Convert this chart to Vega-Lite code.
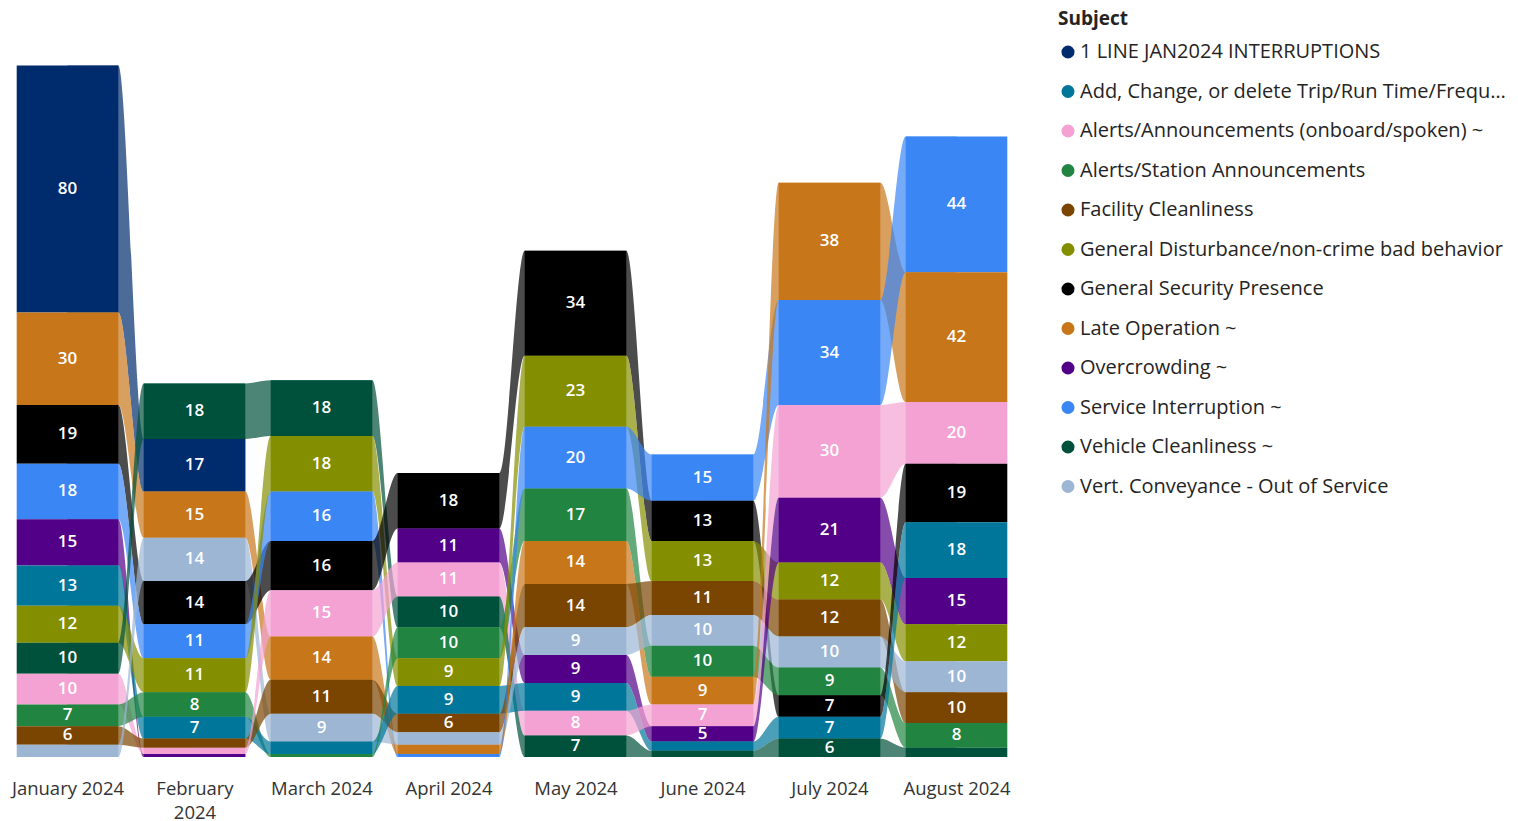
{
  "$schema": "https://vega.github.io/schema/vega-lite/v6.json",
  "width": 1016,
  "height": 741,
  "padding": {"left": 4, "top": 10, "right": 0, "bottom": 0},
  "config": {"view": {"stroke": null}, "font": "Open Sans"},
  "data": {"values": [
    {"m": 1, "subject": "1 LINE JAN2024 INTERRUPTIONS", "value": 80},
    {"m": 1, "subject": "Late Operation ~", "value": 30},
    {"m": 1, "subject": "General Security Presence", "value": 19},
    {"m": 1, "subject": "Service Interruption ~", "value": 18},
    {"m": 1, "subject": "Overcrowding ~", "value": 15},
    {"m": 1, "subject": "Add, Change, or delete Trip/Run Time/Frequency", "value": 13},
    {"m": 1, "subject": "General Disturbance/non-crime bad behavior", "value": 12},
    {"m": 1, "subject": "Vehicle Cleanliness ~", "value": 10},
    {"m": 1, "subject": "Alerts/Announcements (onboard/spoken) ~", "value": 10},
    {"m": 1, "subject": "Alerts/Station Announcements", "value": 7},
    {"m": 1, "subject": "Facility Cleanliness", "value": 6},
    {"m": 1, "subject": "Vert. Conveyance - Out of Service", "value": 4},
    {"m": 2, "subject": "Vehicle Cleanliness ~", "value": 18},
    {"m": 2, "subject": "1 LINE JAN2024 INTERRUPTIONS", "value": 17},
    {"m": 2, "subject": "Late Operation ~", "value": 15},
    {"m": 2, "subject": "Vert. Conveyance - Out of Service", "value": 14},
    {"m": 2, "subject": "General Security Presence", "value": 14},
    {"m": 2, "subject": "Service Interruption ~", "value": 11},
    {"m": 2, "subject": "General Disturbance/non-crime bad behavior", "value": 11},
    {"m": 2, "subject": "Alerts/Station Announcements", "value": 8},
    {"m": 2, "subject": "Add, Change, or delete Trip/Run Time/Frequency", "value": 7},
    {"m": 2, "subject": "Facility Cleanliness", "value": 3},
    {"m": 2, "subject": "Alerts/Announcements (onboard/spoken) ~", "value": 2},
    {"m": 2, "subject": "Overcrowding ~", "value": 1},
    {"m": 3, "subject": "Vehicle Cleanliness ~", "value": 18},
    {"m": 3, "subject": "General Disturbance/non-crime bad behavior", "value": 18},
    {"m": 3, "subject": "Service Interruption ~", "value": 16},
    {"m": 3, "subject": "General Security Presence", "value": 16},
    {"m": 3, "subject": "Alerts/Announcements (onboard/spoken) ~", "value": 15},
    {"m": 3, "subject": "Late Operation ~", "value": 14},
    {"m": 3, "subject": "Facility Cleanliness", "value": 11},
    {"m": 3, "subject": "Vert. Conveyance - Out of Service", "value": 9},
    {"m": 3, "subject": "Add, Change, or delete Trip/Run Time/Frequency", "value": 4},
    {"m": 3, "subject": "Alerts/Station Announcements", "value": 1},
    {"m": 4, "subject": "General Security Presence", "value": 18},
    {"m": 4, "subject": "Overcrowding ~", "value": 11},
    {"m": 4, "subject": "Alerts/Announcements (onboard/spoken) ~", "value": 11},
    {"m": 4, "subject": "Vehicle Cleanliness ~", "value": 10},
    {"m": 4, "subject": "Alerts/Station Announcements", "value": 10},
    {"m": 4, "subject": "General Disturbance/non-crime bad behavior", "value": 9},
    {"m": 4, "subject": "Add, Change, or delete Trip/Run Time/Frequency", "value": 9},
    {"m": 4, "subject": "Facility Cleanliness", "value": 6},
    {"m": 4, "subject": "Vert. Conveyance - Out of Service", "value": 4},
    {"m": 4, "subject": "Late Operation ~", "value": 3},
    {"m": 4, "subject": "Service Interruption ~", "value": 1},
    {"m": 5, "subject": "General Security Presence", "value": 34},
    {"m": 5, "subject": "General Disturbance/non-crime bad behavior", "value": 23},
    {"m": 5, "subject": "Service Interruption ~", "value": 20},
    {"m": 5, "subject": "Alerts/Station Announcements", "value": 17},
    {"m": 5, "subject": "Late Operation ~", "value": 14},
    {"m": 5, "subject": "Facility Cleanliness", "value": 14},
    {"m": 5, "subject": "Vert. Conveyance - Out of Service", "value": 9},
    {"m": 5, "subject": "Overcrowding ~", "value": 9},
    {"m": 5, "subject": "Add, Change, or delete Trip/Run Time/Frequency", "value": 9},
    {"m": 5, "subject": "Alerts/Announcements (onboard/spoken) ~", "value": 8},
    {"m": 5, "subject": "Vehicle Cleanliness ~", "value": 7},
    {"m": 6, "subject": "Service Interruption ~", "value": 15},
    {"m": 6, "subject": "General Security Presence", "value": 13},
    {"m": 6, "subject": "General Disturbance/non-crime bad behavior", "value": 13},
    {"m": 6, "subject": "Facility Cleanliness", "value": 11},
    {"m": 6, "subject": "Vert. Conveyance - Out of Service", "value": 10},
    {"m": 6, "subject": "Alerts/Station Announcements", "value": 10},
    {"m": 6, "subject": "Late Operation ~", "value": 9},
    {"m": 6, "subject": "Alerts/Announcements (onboard/spoken) ~", "value": 7},
    {"m": 6, "subject": "Overcrowding ~", "value": 5},
    {"m": 6, "subject": "Add, Change, or delete Trip/Run Time/Frequency", "value": 3},
    {"m": 6, "subject": "Vehicle Cleanliness ~", "value": 2},
    {"m": 7, "subject": "Late Operation ~", "value": 38},
    {"m": 7, "subject": "Service Interruption ~", "value": 34},
    {"m": 7, "subject": "Alerts/Announcements (onboard/spoken) ~", "value": 30},
    {"m": 7, "subject": "Overcrowding ~", "value": 21},
    {"m": 7, "subject": "General Disturbance/non-crime bad behavior", "value": 12},
    {"m": 7, "subject": "Facility Cleanliness", "value": 12},
    {"m": 7, "subject": "Vert. Conveyance - Out of Service", "value": 10},
    {"m": 7, "subject": "Alerts/Station Announcements", "value": 9},
    {"m": 7, "subject": "General Security Presence", "value": 7},
    {"m": 7, "subject": "Add, Change, or delete Trip/Run Time/Frequency", "value": 7},
    {"m": 7, "subject": "Vehicle Cleanliness ~", "value": 6},
    {"m": 8, "subject": "Service Interruption ~", "value": 44},
    {"m": 8, "subject": "Late Operation ~", "value": 42},
    {"m": 8, "subject": "Alerts/Announcements (onboard/spoken) ~", "value": 20},
    {"m": 8, "subject": "General Security Presence", "value": 19},
    {"m": 8, "subject": "Add, Change, or delete Trip/Run Time/Frequency", "value": 18},
    {"m": 8, "subject": "Overcrowding ~", "value": 15},
    {"m": 8, "subject": "General Disturbance/non-crime bad behavior", "value": 12},
    {"m": 8, "subject": "Vert. Conveyance - Out of Service", "value": 10},
    {"m": 8, "subject": "Facility Cleanliness", "value": 10},
    {"m": 8, "subject": "Alerts/Station Announcements", "value": 8},
    {"m": 8, "subject": "Vehicle Cleanliness ~", "value": 3}
  ]},
  "transform": [
    {"stack": "value", "groupby": ["m"], "sort": [{"field": "value", "order": "ascending"}, {"field": "subject", "order": "ascending"}], "as": ["y0", "y1"]}
  ],
  "layer": [
    {
      "transform": [
        {"calculate": "datum.m", "as": "c1"},
        {"calculate": "datum.m", "as": "e1"},
        {"calculate": "datum.m - 1", "as": "e2"},
        {"calculate": "datum.m - 1", "as": "c2"},
        {"fold": ["c1", "e1", "e2", "c2"], "as": ["pt", "pair"]},
        {"filter": "datum.pair >= 1 && datum.pair <= 7"},
        {"calculate": "datum.pt == 'e1' ? datum.m + 0.4 : (datum.pt == 'e2' ? datum.m - 0.4 : datum.m)", "as": "xx"},
        {"calculate": "datum.subject + '|' + datum.pair", "as": "key"}
      ],
      "mark": {"type": "area", "interpolate": "monotone", "opacity": 0.7},
      "encoding": {
        "x": {"field": "xx", "type": "quantitative", "scale": {"domain": [0.5, 8.5], "nice": false, "zero": false},
              "axis": {"values": [1, 2, 3, 4, 5, 6, 7, 8], "title": null, "domain": false, "ticks": false, "grid": false, "labelPadding": 22, "labelFontSize": 18.5, "labelColor": "#333333", "labelLineHeight": 24,
                       "labelExpr": "datum.value == 2 ? ['February', '2024'] : ['', 'January 2024', '', 'March 2024', 'April 2024', 'May 2024', 'June 2024', 'July 2024', 'August 2024'][datum.value]"}},
        "y": {"field": "y1", "type": "quantitative", "scale": {"domain": [0, 240]}, "axis": null},
        "y2": {"field": "y0"},
        "detail": {"field": "key"},
        "color": {"field": "subject", "type": "nominal"}
      }
    },
    {
      "transform": [
        {"calculate": "datum.m - 0.4", "as": "bl"},
        {"calculate": "datum.m + 0.4", "as": "br"}
      ],
      "mark": {"type": "rect"},
      "encoding": {
        "x": {"field": "bl", "type": "quantitative"},
        "x2": {"field": "br"},
        "y": {"field": "y0", "type": "quantitative"},
        "y2": {"field": "y1"},
        "color": {"field": "subject", "type": "nominal"}
      }
    },
    {
      "transform": [
        {"filter": "datum.value >= 5"},
        {"calculate": "(datum.y0 + datum.y1) / 2", "as": "ym"}
      ],
      "mark": {"type": "text", "fontSize": 17, "fontWeight": 600, "baseline": "middle", "align": "center"},
      "encoding": {
        "x": {"field": "m", "type": "quantitative"},
        "y": {"field": "ym", "type": "quantitative"},
        "text": {"field": "value", "type": "quantitative"},
        "color": {"value": "#ffffff"}
      }
    }
  ],
  "encoding": {
    "color": {
      "field": "subject", "type": "nominal",
      "scale": {
        "domain": ["1 LINE JAN2024 INTERRUPTIONS", "Add, Change, or delete Trip/Run Time/Frequency", "Alerts/Announcements (onboard/spoken) ~", "Alerts/Station Announcements", "Facility Cleanliness", "General Disturbance/non-crime bad behavior", "General Security Presence", "Late Operation ~", "Overcrowding ~", "Service Interruption ~", "Vehicle Cleanliness ~", "Vert. Conveyance - Out of Service"],
        "range": ["#002C6E", "#00769A", "#F3A2D3", "#218440", "#7A4500", "#848F00", "#000000", "#C8761A", "#520087", "#3A86F5", "#00513B", "#9CB6D4"]
      },
      "legend": {"orient": "none", "legendX": 1054, "legendY": -6, "title": "Subject", "titleFontSize": 19, "titleFontWeight": "bold", "titleColor": "#252423", "titlePadding": 13, "labelFontSize": 20, "labelColor": "#252423", "symbolType": "circle", "symbolSize": 170, "rowPadding": 19.5, "labelLimit": 434, "labelOffset": 2, "symbolStrokeWidth": 0, "symbolOpacity": 1}
    }
  }
}
